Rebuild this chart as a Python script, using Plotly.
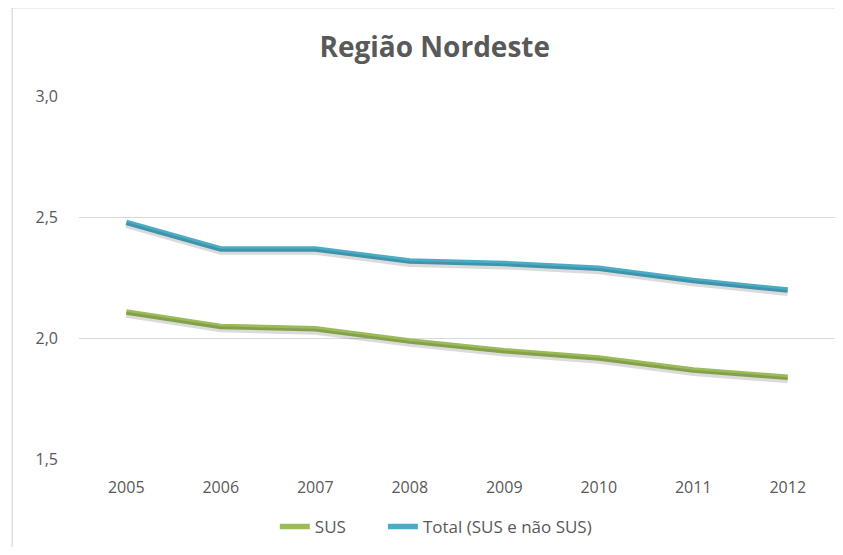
import plotly.graph_objects as go

# ── Data ──────────────────────────────────────────────────────────────
years = ["2005", "2006", "2007", "2008", "2009", "2010", "2011", "2012"]
sus = [2.11, 2.05, 2.04, 1.99, 1.95, 1.92, 1.87, 1.84]
total = [2.48, 2.37, 2.37, 2.32, 2.31, 2.29, 2.24, 2.20]

GREEN = "#9BBB59"
BLUE = "#4BACC6"
TXT = "#595959"
FONT = "Open Sans, Liberation Sans, sans-serif"

Y_RANGE = [1.4985, 3.0015]
SHADOW_SHIFT = 0.012   # shadow drawn on a slightly shifted copy of the y scale

fig = go.Figure()

# soft drop shadow under each line
for vals in (sus, total):
    fig.add_trace(go.Scatter(
        x=years, y=vals, mode="lines", yaxis="y2",
        line=dict(color="rgba(0,0,0,0.14)", width=6),
        hoverinfo="skip", showlegend=False,
    ))

fig.add_trace(go.Scatter(
    x=years, y=sus, mode="lines", name="SUS",
    line=dict(color=GREEN, width=5.5), legend="legend",
))
fig.add_trace(go.Scatter(
    x=years, y=total, mode="lines", name="Total (SUS e não SUS)",
    line=dict(color=BLUE, width=5.5), legend="legend2",
))

legend_style = dict(
    orientation="h", xanchor="left", y=-0.184, yanchor="middle",
    font=dict(size=17, color=TXT), bgcolor="rgba(0,0,0,0)",
)

# page body adds an 8px offset, so the figure is sized/placed to compensate
fig.update_layout(
    width=827, height=539,
    margin=dict(l=71, r=0, t=88, b=87, autoexpand=False),
    paper_bgcolor="white", plot_bgcolor="white",
    separators=",.",
    font=dict(family=FONT, color=TXT, size=16),
    title=dict(
        text="<b>Região Nordeste</b>",
        x=0.516, xanchor="center", y=0.928, yanchor="middle",
        font=dict(size=28, color=TXT, family=FONT),
    ),
    xaxis=dict(
        range=[-0.5, 7.5],
        showgrid=False, showline=False, zeroline=False,
        ticks="", ticklabelstandoff=16,
        tickfont=dict(size=16, color=TXT),
    ),
    yaxis=dict(
        range=Y_RANGE, tick0=1.5, dtick=0.5, tickformat=".1f",
        showgrid=True, gridcolor="#d9d9d9", gridwidth=1.3,
        zeroline=False, showline=False, ticks="",
        ticklabelstandoff=20,
        tickfont=dict(size=16, color=TXT),
    ),
    yaxis2=dict(
        overlaying="y",
        range=[Y_RANGE[0] + SHADOW_SHIFT, Y_RANGE[1] + SHADOW_SHIFT],
        visible=False,
    ),
    legend=dict(x=0.259, **legend_style),
    legend2=dict(x=0.402, **legend_style),
    shapes=[dict(
        type="rect", xref="paper", yref="paper",
        x0=-0.0884, x1=1.3, y0=-0.5, y1=1.242,
        line=dict(color="#d9d9d9", width=1.3), fillcolor="rgba(0,0,0,0)",
        layer="below",
    )],
)

fig.write_html("out.html")
